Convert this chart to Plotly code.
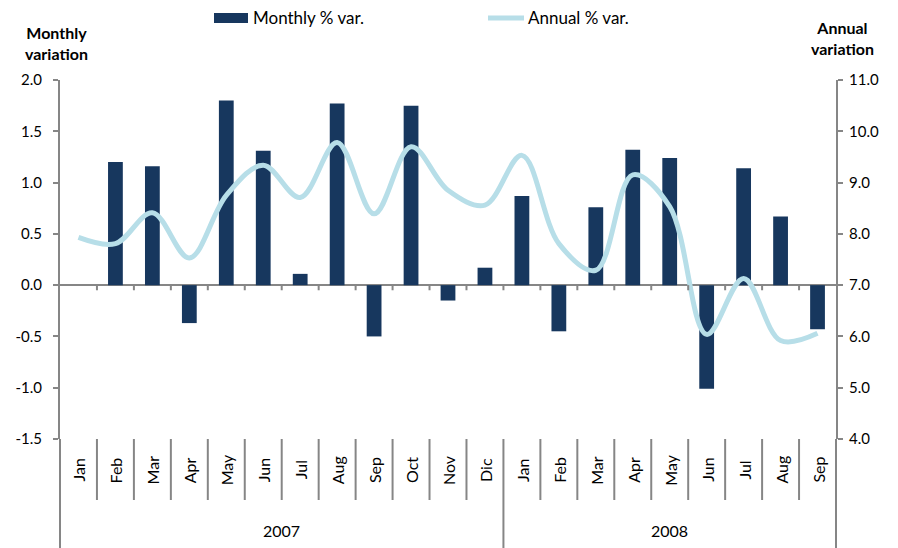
import plotly.graph_objects as go

months = ["Jan", "Feb", "Mar", "Apr", "May", "Jun", "Jul", "Aug", "Sep", "Oct", "Nov", "Dic",
          "Jan", "Feb", "Mar", "Apr", "May", "Jun", "Jul", "Aug", "Sep"]
years = ["2007", "2008"]
year_counts = [12, 9]
monthly_var = [0.0, 1.20, 1.16, -0.37, 1.80, 1.31, 0.11, 1.77, -0.50, 1.75, -0.15, 0.17,
               0.87, -0.45, 0.76, 1.32, 1.24, -1.01, 1.14, 0.67, -0.43]
annual_var = [7.93, 7.81, 8.41, 7.53, 8.75, 9.34, 8.71, 9.78, 8.39, 9.70, 8.85, 8.56,
              9.53, 7.81, 7.29, 9.15, 8.53, 6.04, 7.13, 5.92, 6.06]
left_ticks = [-1.5, -1.0, -0.5, 0.0, 0.5, 1.0, 1.5, 2.0]
left_tick_text = ["-1.5", "-1.0", "-0.5", "0.0", "0.5", "1.0", "1.5", "2.0"]
right_ticks = [4.0, 5.0, 6.0, 7.0, 8.0, 9.0, 10.0, 11.0]
right_tick_text = ["4.0", "5.0", "6.0", "7.0", "8.0", "9.0", "10.0", "11.0"]

BAR = "#17375E"
LINE = "#B7DEE8"
AX = "#868686"
FONT = "Lato"

L, R, T, B = 60, 836, 80, 439
W, H = R - L, B - T


def pxx(x):
    return (x - L) / W


def pyy(y):
    return (B - y) / H


xs = list(range(len(months)))

fig = go.Figure()
fig.add_trace(go.Bar(x=xs, y=monthly_var, name="Monthly % var.", marker_color=BAR,
                     marker_line_width=0, width=0.4, yaxis="y"))
fig.add_trace(go.Scatter(x=xs, y=annual_var, name="Annual % var.", mode="lines",
                         line=dict(color=LINE, width=5, shape="spline", smoothing=1.0),
                         yaxis="y2"))

shapes = []
annotations = []
n = len(months)
for xp in (0, 1):
    shapes.append(dict(type="line", xref="paper", yref="paper", x0=xp, x1=xp,
                       y0=pyy(550), y1=0, line=dict(color=AX, width=2)))
boundaries = [i + 0.5 for i in range(n - 1)]
year_bound = year_counts[0] - 0.5
for b in boundaries:
    shapes.append(dict(type="line", xref="x", yref="y", x0=b, x1=b, y0=0, y1=-0.05,
                       line=dict(color=AX, width=2)))
    y1 = pyy(550) if b == year_bound else pyy(500)
    shapes.append(dict(type="line", xref="x", yref="paper", x0=b, x1=b, y0=0, y1=y1,
                       line=dict(color=AX, width=2)))
for i, m in enumerate(months):
    annotations.append(dict(x=i, y=pyy(470), xref="x", yref="paper", text=m, showarrow=False,
                            textangle=-90, xanchor="center", yanchor="middle",
                            font=dict(size=16, color="#000000", family=FONT)))
start = 0
for yr, c in zip(years, year_counts):
    center = start + (c - 1) / 2
    annotations.append(dict(x=center, y=pyy(530), xref="x", yref="paper", text=yr,
                            showarrow=False, xanchor="center", yanchor="middle",
                            font=dict(size=16, color="#000000", family=FONT)))
    start += c
annotations.append(dict(x=pxx(56), y=pyy(43), xref="paper", yref="paper",
                        text="<b>Monthly<br>variation</b>", showarrow=False,
                        xanchor="center", yanchor="middle",
                        font=dict(size=16, color="#000000", family=FONT)))
annotations.append(dict(x=pxx(842), y=pyy(38), xref="paper", yref="paper",
                        text="<b>Annual<br>variation</b>", showarrow=False,
                        xanchor="center", yanchor="middle",
                        font=dict(size=16, color="#000000", family=FONT)))
shapes.append(dict(type="rect", xref="paper", yref="paper", x0=pxx(214), x1=pxx(248),
                   y0=pyy(23), y1=pyy(13), fillcolor=BAR, line=dict(width=0)))
shapes.append(dict(type="line", xref="paper", yref="paper", x0=pxx(488), x1=pxx(524),
                   y0=pyy(18), y1=pyy(18), line=dict(color=LINE, width=5)))
annotations.append(dict(x=pxx(251), y=pyy(18), xref="paper", yref="paper",
                        text="Monthly % var.", showarrow=False, xanchor="left", yanchor="middle",
                        font=dict(size=17, color="#000000", family=FONT)))
annotations.append(dict(x=pxx(526), y=pyy(18), xref="paper", yref="paper",
                        text="Annual % var.", showarrow=False, xanchor="left", yanchor="middle",
                        font=dict(size=17, color="#000000", family=FONT)))

fig.update_layout(
    width=898, height=548,
    margin=dict(l=L, r=898 - R, t=T, b=548 - B, pad=0),
    paper_bgcolor="white", plot_bgcolor="white",
    showlegend=False,
    font=dict(family=FONT, size=15, color="#000000"),
    xaxis=dict(range=[-0.5, n - 0.5], showticklabels=False, showgrid=False, zeroline=False,
               showline=False, ticks=""),
    yaxis=dict(range=[-1.5, 2.0], tickvals=left_ticks, ticktext=left_tick_text, showgrid=False,
               zeroline=True, zerolinecolor=AX, zerolinewidth=2, automargin=False,
               showline=True, linecolor=AX, linewidth=2, ticks="outside", ticklen=5,
               tickcolor=AX, tickwidth=2, ticklabelstandoff=8,
               tickfont=dict(size=15, family=FONT)),
    yaxis2=dict(range=[4.0, 11.0], tickvals=right_ticks, ticktext=right_tick_text,
                overlaying="y", side="right", automargin=False,
                showgrid=False, zeroline=False, showline=True, linecolor=AX, linewidth=2,
                ticks="outside", ticklen=5, tickcolor=AX, tickwidth=2, ticklabelstandoff=3,
                tickfont=dict(size=15, family=FONT)),
    shapes=shapes,
    annotations=annotations,
)

fig.write_html("out.html", post_script="document.body.style.margin='0';",
               config={"displayModeBar": False})
